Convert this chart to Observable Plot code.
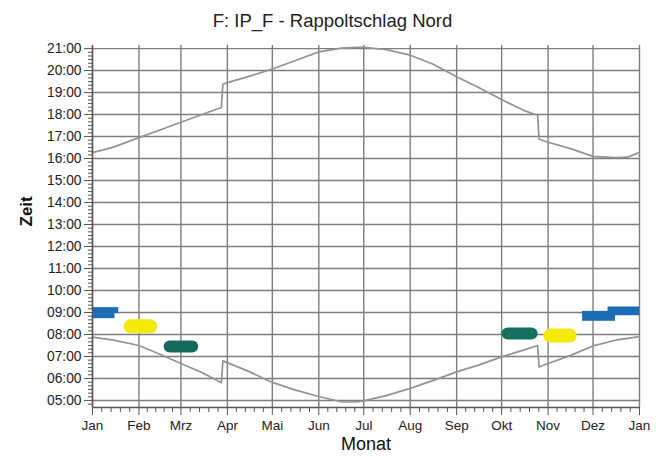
<!DOCTYPE html>
<html>
<head>
<meta charset="utf-8">
<script src="https://cdn.jsdelivr.net/npm/d3@7"></script>
<script src="https://cdn.jsdelivr.net/npm/@observablehq/plot@0.6"></script>
<style>
  html, body { margin: 0; padding: 0; background: #fff; }
  #wrap { position: relative; width: 665px; height: 457px; }
  #title { position: absolute; left: 0; top: 10px; width: 665px; text-align: center;
           font-family: "Liberation Sans", Arial, sans-serif; font-size: 18.5px; line-height: 22px; color: #222; }
</style>
</head>
<body>
<div id="wrap">
  <div id="title">F: IP_F - Rappoltschlag Nord</div>
  <div id="chart"></div>
</div>
<script>
// Month starts (day of year) and labels
const monthTicks = [0, 31, 59, 90, 120, 151, 181, 212, 243, 273, 304, 334, 365];
const monthLabels = ["Jan","Feb","Mrz","Apr","Mai","Jun","Jul","Aug","Sep","Okt","Nov","Dez","Jan"];
const hourTicks = [5,6,7,8,9,10,11,12,13,14,15,16,17,18,19,20,21];
const yDomain = [4.68, 21.14];

// Sunrise (lower curve), hours
const sunriseDays  = [0, 14, 31, 45, 59, 73, 86, 87, 105, 120, 135, 151, 166, 176, 181, 196, 212, 227, 243, 258, 273, 288, 297, 298, 304, 319, 334, 349, 365];
const sunriseTimes = [7.88, 7.74, 7.5, 7.1, 6.68, 6.27, 5.8, 6.8, 6.3, 5.82, 5.48, 5.18, 4.94, 4.93, 4.98, 5.22, 5.55, 5.9, 6.3, 6.62, 6.98, 7.3, 7.5, 6.52, 6.68, 7.05, 7.48, 7.74, 7.9];

// Sunset (upper curve), hours
const sunsetDays  = [0, 14, 31, 45, 59, 73, 86, 87, 90, 105, 120, 135, 151, 166, 176, 181, 196, 212, 227, 243, 258, 273, 288, 297, 298, 304, 319, 334, 349, 357, 365];
const sunsetTimes = [16.27, 16.52, 16.95, 17.3, 17.65, 18.0, 18.32, 19.38, 19.45, 19.75, 20.07, 20.45, 20.85, 21.02, 21.06, 21.06, 20.95, 20.7, 20.3, 19.72, 19.22, 18.68, 18.18, 17.97, 16.88, 16.74, 16.45, 16.1, 16.04, 16.06, 16.28];

// Glare periods: blocky blue patches (day range, time range)
const blueDay1  = [0, 0, 327, 344];
const blueDay2  = [17.5, 15, 349, 365];
const blueTime1 = [8.95, 8.72, 8.6, 8.85];
const blueTime2 = [9.22, 8.95, 9.05, 9.25];

// Rounded patches (yellow / teal): series, day, time
const blobSeries = ["fe","fe","mz","mz","ok","ok","nv","nv"];
const blobDays   = [25.5, 38.5, 51.5, 66.5, 277, 293, 305.5, 318.5];
const blobTimes  = [8.37, 8.37, 7.45, 7.45, 8.05, 8.05, 7.95, 7.95];
const blobColors = {fe: "#f3ea0c", mz: "#15695d", ok: "#16705f", nv: "#f3ea0c"};
const blobWidths = {fe: 14, mz: 12, ok: 12, nv: 14};

const sunrise = sunriseDays.map((d, i) => ({day: d, t: sunriseTimes[i]}));
const sunset = sunsetDays.map((d, i) => ({day: d, t: sunsetTimes[i]}));
const blue = blueDay1.map((d, i) => ({x1: d, x2: blueDay2[i], y1: blueTime1[i], y2: blueTime2[i]}));
const blobs = blobDays.map((d, i) => ({s: blobSeries[i], day: d, t: blobTimes[i]}));

const minorX = [];
for (let i = 0; i < monthTicks.length - 1; i++) {
  const a = monthTicks[i], b = monthTicks[i + 1];
  for (let k = 1; k < 5; k++) minorX.push(a + k * (b - a) / 5);
}
const minorY = [];
for (let k = -1; k <= 96; k++) { const v = 5 + k / 6; if (v > yDomain[0] && v < yDomain[1] && k % 6 !== 0) minorY.push(v); }

const fmtHour = h => String(h).padStart(2, "0") + ":00";
const gridColor = "#7d7d7d";

const plot = Plot.plot({
  width: 665,
  height: 457,
  marginLeft: 92,
  marginRight: 26,
  marginTop: 45,
  marginBottom: 50,
  style: {fontFamily: "'Liberation Sans', Arial, sans-serif", fontSize: "13px", color: "#222", background: "transparent"},
  x: {domain: [0, 365]},
  y: {domain: yDomain},
  marks: [
    Plot.gridY(hourTicks, {stroke: gridColor, strokeOpacity: 1, strokeWidth: 1.4}),
    Plot.gridX(monthTicks, {stroke: gridColor, strokeOpacity: 1, strokeWidth: 1.4}),
    Plot.line(sunrise, {x: "day", y: "t", stroke: "#939393", strokeWidth: 1.7}),
    Plot.line(sunset, {x: "day", y: "t", stroke: "#939393", strokeWidth: 1.7}),
    ...Object.keys(blobColors).map(s =>
      Plot.line(blobs.filter(b => b.s === s), {x: "day", y: "t", stroke: blobColors[s], strokeWidth: blobWidths[s], strokeLinecap: "round", strokeLinejoin: "round"})
    ),
    Plot.rect(blue, {x1: "x1", x2: "x2", y1: "y1", y2: "y2", fill: "#1c6db4"}),
    Plot.ruleX([0], {stroke: "#555", strokeWidth: 1.4}),
    Plot.ruleY([yDomain[0]], {stroke: "#555", strokeWidth: 1.4}),
    Plot.axisY(hourTicks, {tickFormat: fmtHour, tickSize: 8, tickPadding: 3, label: null, stroke: "#555", fontSize: 13.8}),
    Plot.axisY(minorY, {tickFormat: () => "", tickSize: 4, label: null, stroke: "#555"}),
    Plot.axisX(monthTicks, {tickFormat: d => monthLabels[monthTicks.indexOf(d)], tickSize: 8, tickPadding: 5, label: null, stroke: "#555", fontSize: 13.5}),
    Plot.axisX(minorX, {tickFormat: () => "", tickSize: 5, label: null, stroke: "#555"}),
    Plot.text(["Zeit"], {frameAnchor: "left", dx: -66, rotate: -90, fontSize: 17, fontWeight: "bold", fill: "#111"}),
    Plot.text(["Monat"], {frameAnchor: "bottom", dy: 42, fontSize: 18, fill: "#111"})
  ]
});
document.getElementById("chart").appendChild(plot);
</script>
</body>
</html>
